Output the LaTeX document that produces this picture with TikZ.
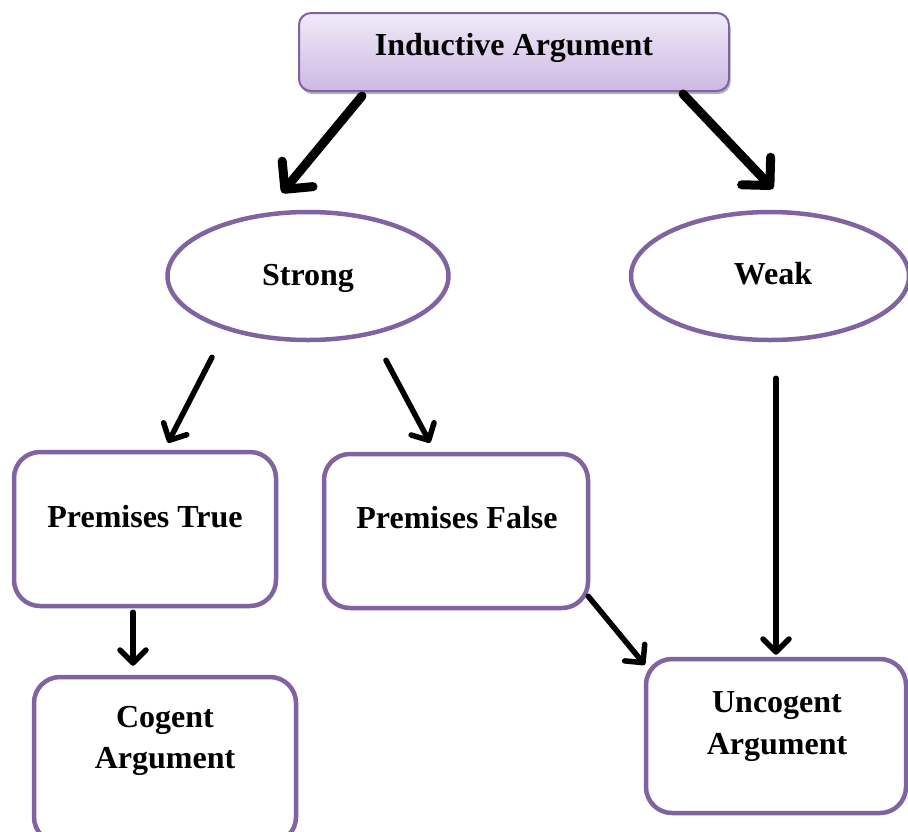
\documentclass[tikz,border=0pt]{standalone}
\usepackage{fontspec}
\setmainfont{Liberation Serif}
\usetikzlibrary{shapes.geometric,arrows.meta,shadows}
\definecolor{frame}{HTML}{8064A2}
\definecolor{liltop}{HTML}{F0EAF8}
\definecolor{lilbot}{HTML}{CDB9E4}
\begin{document}
\begin{tikzpicture}[x=1pt,y=-1pt,
  txt/.style={font=\fontsize{32}{40}\selectfont\bfseries, inner sep=0pt, anchor=base},
  card/.style={draw=frame, line width=4.5pt, rounded corners=26pt, fill=white,
    inner sep=0pt, minimum width=262pt, minimum height=154pt},
  oval/.style={ellipse, draw=frame, line width=4.5pt, fill=white, inner sep=0pt,
    minimum height=128pt},
  bigarrow/.style={line width=9pt, line cap=round, line join=round,
    -{Straight Barb[length=20pt, width=40pt, round]}},
  smallarrow/.style={line width=5.5pt, line cap=round, line join=round,
    -{Straight Barb[length=13pt, width=26pt, round]}},
]
\useasboundingbox (0,0) rectangle (908,831);

% title box with gradient and soft shadow
\node[draw=frame, line width=2pt, rounded corners=12pt, top color=liltop,
  bottom color=lilbot, minimum width=430pt, minimum height=78pt, inner sep=0pt,
  drop shadow={shadow xshift=1.5pt, shadow yshift=-3pt, opacity=0.3, fill=black}]
  (top) at (514,52) {};
\node[txt] (toptxt) at (514,55) {Inductive Argument};

% second level
\node[oval, minimum width=281pt] (strong) at (308,276) {};
\node[txt] (strongtxt) at (308,285) {Strong};
\node[oval, minimum width=278pt] (weak) at (770,276) {};
\node[txt] (weaktxt) at (773,284) {Weak};

% premises
\node[card] (pt) at (145,529) {};
\node[txt] (pttxt) at (145,527) {Premises True};
\node[card, minimum width=264pt] (pf) at (456,531) {};
\node[txt] (pftxt) at (457,528) {Premises False};

% conclusions
\node[card, minimum height=166pt] (cg) at (165,760) {};
\node[txt] (cgtxt1) at (165,727) {Cogent};
\node[txt] (cgtxt2) at (165,768) {Argument};
\node[card, minimum width=260pt] (uc) at (776,736) {};
\node[txt] (uctxt1) at (777,712) {Uncogent};
\node[txt] (uctxt2) at (777,754) {Argument};

% connectors
\draw[bigarrow] ([xshift=-152pt,yshift=-4pt]top.south) -- ([xshift=-26pt,yshift=17pt]strong.north);
\draw[bigarrow] ([xshift=169pt,yshift=-2pt]top.south) -- ([xshift=3pt,yshift=21pt]weak.north);
\draw[smallarrow] ([xshift=-96pt,yshift=-15pt]strong.south) -- ([xshift=23pt,yshift=7pt]pt.north);
\draw[smallarrow] ([xshift=78pt,yshift=-18pt]strong.south) -- ([xshift=-26pt,yshift=9pt]pf.north);
\draw[smallarrow] ([xshift=-12pt,yshift=-4pt]pt.south) -- ([xshift=-32pt,yshift=9pt]cg.north);
\draw[smallarrow] ([xshift=-2pt,yshift=14pt]pf.south east) -- ([xshift=1pt,yshift=-8pt]uc.north west);
\draw[smallarrow] ([xshift=6pt,yshift=-36pt]weak.south) -- ([yshift=2pt]uc.north);
\end{tikzpicture}
\end{document}
